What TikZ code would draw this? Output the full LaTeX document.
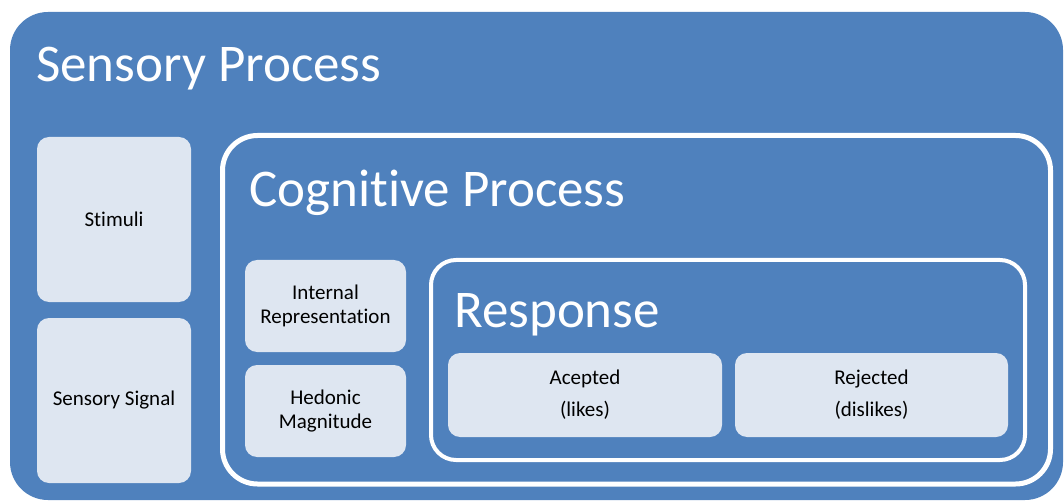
\documentclass[tikz,border=0pt]{standalone}
\usepackage{fontspec}
\setmainfont{Carlito}[Ligatures=NoCommon]
\definecolor{obl}{HTML}{4F81BD}
\definecolor{lightfill}{HTML}{DEE6F1}
\begin{document}
\begin{tikzpicture}[x=1pt,y=-1pt,
  panel/.style={rounded corners=12pt, fill=lightfill, draw=none, inner sep=0pt, align=center,
    font=\fontsize{21}{23.5}\selectfont, text=black},
  resp/.style={panel, font=\fontsize{21}{32}\selectfont},
  title/.style={anchor=base west, text=white, inner sep=0pt, font=\fontsize{53}{60}\selectfont},
  frame/.style={draw=white, fill=none, inner sep=0pt}
]
\useasboundingbox (0,0) rectangle (1064,502);
\node[fill=obl, draw=none, rounded corners=38pt, minimum width=1053pt, minimum height=488pt, inner sep=0pt] (sens) at (536.5,256) {};
\node[title] (senst) at (36,82) {Sensory Process};
\node[panel, minimum width=154pt, minimum height=165pt] (stim) at (114,219.5) {Stimuli};
\node[panel, minimum width=154pt, minimum height=165pt] (signal) at (114,400.5) {Sensory Signal};
\node[frame, line width=5pt, rounded corners=35pt, minimum width=828pt, minimum height=348.5pt] (cog) at (636.5,309.75) {};
\node[title] (cogt) at (249,207) {Cognitive Process};
\node[panel, minimum width=161pt, minimum height=92pt] (intrep) at (325.5,306) {Internal\\Representation};
\node[panel, minimum width=161pt, minimum height=92pt] (hedon) at (325.5,411) {Hedonic\\Magnitude};
\node[frame, line width=4pt, rounded corners=25pt, minimum width=594pt, minimum height=200pt] (resp) at (728,360) {};
\node[title] (respt) at (454,327) {Response};
\node[resp, minimum width=274pt, minimum height=84pt] (acc) at (585,395) {Acepted\\(likes)};
\node[resp, minimum width=273pt, minimum height=84pt] (rej) at (871.5,395) {Rejected\\(dislikes)};
\end{tikzpicture}
\end{document}
